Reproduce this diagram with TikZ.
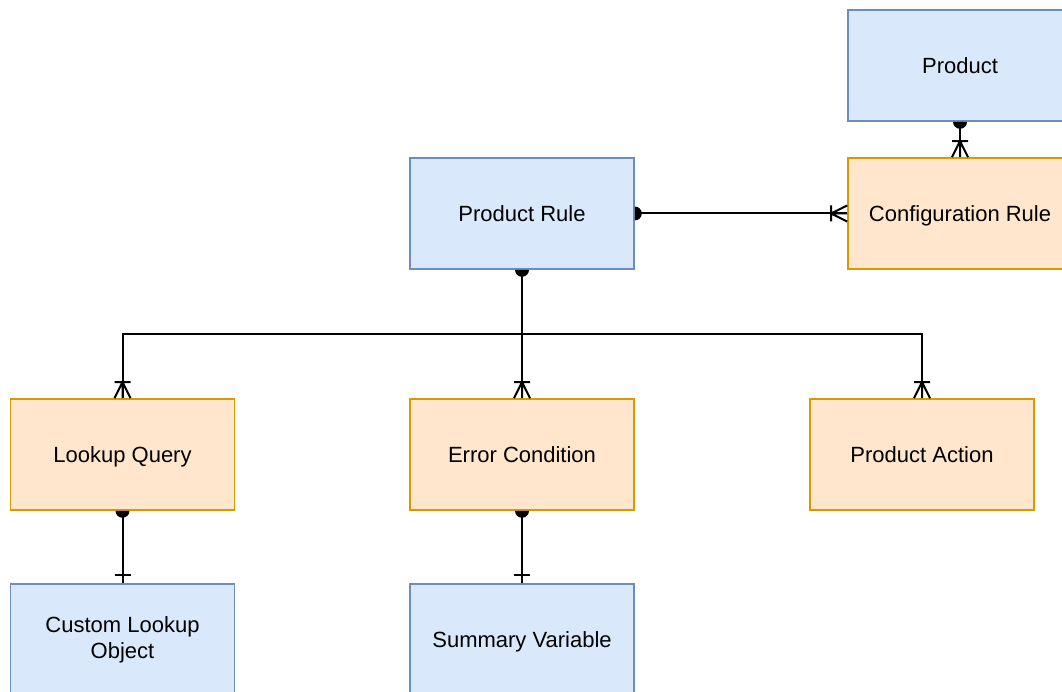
\documentclass[tikz,border=0pt]{standalone}
\usepackage{fontspec}
\setmainfont{Liberation Sans}
\begin{document}
\begin{tikzpicture}[x=1pt,y=1pt,
  entity/.style={draw, line width=1.6pt, minimum width=224pt, minimum height=111pt,
    inner sep=0pt, align=center, font=\fontsize{22}{26}\selectfont},
  single/.style={text height=20pt, text depth=4pt},
  bluebox/.style={entity, fill={rgb,255:red,218;green,232;blue,252}, draw={rgb,255:red,108;green,142;blue,191}},
  orangebox/.style={entity, fill={rgb,255:red,255;green,230;blue,204}, draw={rgb,255:red,215;green,155;blue,0}},
  link/.style={line width=2pt, black},
  halfdot/.pic={\fill[black] (0,7) arc (90:-90:7) -- cycle;},
  crow/.pic={\draw[line width=2pt, black] (-16,0) -- (0,8) (-16,0) -- (0,0) (-16,0) -- (0,-8) (-16,8) -- (-16,-8);},
  onebar/.pic={\draw[line width=2pt, black] (-8,8) -- (-8,-8);}
]
\clip (0,0) rectangle (1062,692);

% entities
\node[bluebox,single]   (prod)   at (960,626.5) {Product};
\node[orangebox,single] (conf)   at (960,478.5) {Configuration Rule};
\node[bluebox,single]   (rule)   at (522,478.5) {Product Rule};
\node[orangebox,single] (lookup) at (122.5,237.5) {Lookup Query};
\node[orangebox,single] (error)  at (522,237.5) {Error Condition};
\node[orangebox,single] (action) at (922,237.5) {Product Action};
\node[bluebox]          (custom) at (122.5,52.5) {Custom Lookup\\Object};
\node[bluebox,single]   (summ)   at (522,52.5) {Summary Variable};

% relationships
\draw[link] (prod.south) -- (conf.north);
\pic[rotate=-90] at (prod.south) {halfdot};
\pic[rotate=-90] at (conf.north) {crow};

\draw[link] (rule.east) -- (conf.west);
\pic at (rule.east) {halfdot};
\pic at (conf.west) {crow};

\coordinate (bus) at (522,358);
\draw[link] (rule.south) -- (error.north);
\draw[link] (lookup.north) |- (bus) -| (action.north);
\pic[rotate=-90] at (rule.south) {halfdot};
\pic[rotate=-90] at (lookup.north) {crow};
\pic[rotate=-90] at (error.north) {crow};
\pic[rotate=-90] at (action.north) {crow};

\draw[link] (lookup.south) -- (custom.north);
\pic[rotate=-90] at (lookup.south) {halfdot};
\pic[rotate=-90] at (custom.north) {onebar};

\draw[link] (error.south) -- (summ.north);
\pic[rotate=-90] at (error.south) {halfdot};
\pic[rotate=-90] at (summ.north) {onebar};
\end{tikzpicture}
\end{document}
